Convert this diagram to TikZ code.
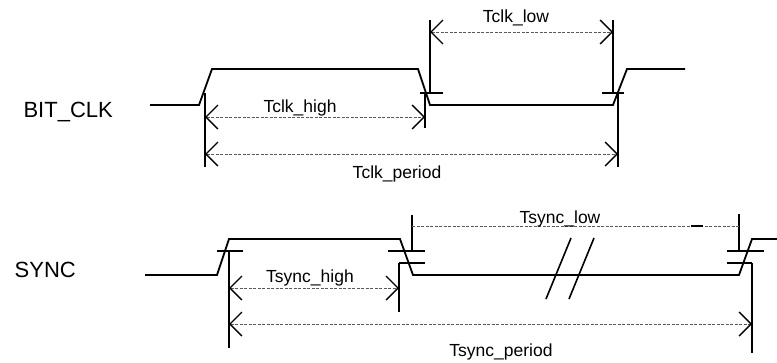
\documentclass[tikz,border=0pt]{standalone}
\usepackage{fontspec}
\setmainfont{Liberation Sans}
\usetikzlibrary{arrows.meta}
\begin{document}
\begin{tikzpicture}[x=1pt,y=-1pt,
  wave/.style={line width=1.8pt,line join=miter},
  tick/.style={line width=1.8pt},
  dim/.style={line width=0.9pt,draw=black!65,dash pattern=on 3pt off 1.5pt,
    {Straight Barb[length=12pt,width=24pt,line width=1.4pt,black]}-{Straight Barb[length=12pt,width=24pt,line width=1.4pt,black]}},
  plain/.style={line width=0.9pt,draw=black!65,dash pattern=on 3pt off 1.5pt},
  lbl/.style={font=\fontsize{17.5pt}{20pt}\selectfont,inner sep=0pt,anchor=base},
  sig/.style={font=\fontsize{22pt}{25pt}\selectfont,inner sep=0pt,anchor=base east}]
\useasboundingbox (0,0) rectangle (777,362);

% ---------- BIT_CLK ----------
\node[sig] (bclk) at (113,117) {BIT\_CLK};
\coordinate (b0) at (150,105);
\coordinate (b1) at (199,105);
\coordinate (b2) at (212,69);
\coordinate (b3) at (418,69);
\coordinate (b4) at (430,105);
\coordinate (b5) at (613,105);
\coordinate (b6) at (627,69);
\coordinate (b7) at (685,69);
\draw[wave] (b0) -- (b1) -- (b2) -- (b3) -- (b4) -- (b5) -- (b6) -- (b7);

\coordinate (v1t) at (205,93);   \coordinate (v1b) at (205,167);
\coordinate (v2t) at (425,93);   \coordinate (v2b) at (425,128);
\coordinate (v3t) at (430,20);   \coordinate (v3b) at (430,93);
\coordinate (v4t) at (613,20);   \coordinate (v4b) at (613,93);
\coordinate (v5t) at (618,93);   \coordinate (v5b) at (618,167);
\coordinate (t1a) at (420,93);   \coordinate (t1b) at (443,93);
\coordinate (t2a) at (602,93);   \coordinate (t2b) at (624,93);
\draw[tick] (v1t) -- (v1b);
\draw[tick] (v2t) -- (v2b);
\draw[tick] (v3t) -- (v3b);
\draw[tick] (v4t) -- (v4b);
\draw[tick] (v5t) -- (v5b);
\draw[tick] (t1a) -- (t1b);
\draw[tick] (t2a) -- (t2b);

\coordinate (h1a) at (205,117);  \coordinate (h1b) at (425,117);
\coordinate (l1a) at (430,32);   \coordinate (l1b) at (613,32);
\coordinate (p1a) at (205,154);  \coordinate (p1b) at (618,154);
\draw[dim] (h1a) -- (h1b);
\draw[dim] (l1a) -- (l1b);
\draw[dim] (p1a) -- (p1b);
\node[lbl] (tch) at (300,112) {Tclk\_high};
\node[lbl] (tcl) at (516,22) {Tclk\_low};
\node[lbl] (tcp) at (397,178) {Tclk\_period};

% ---------- SYNC ----------
\node[sig] (sync) at (76,277) {SYNC};
\coordinate (s0) at (145,275);
\coordinate (s1) at (217,275);
\coordinate (s2) at (229,239);
\coordinate (s3) at (400,239);
\coordinate (s4) at (413,275);
\coordinate (s5) at (739,275);
\coordinate (s6) at (752,239);
\coordinate (s7) at (777,239);
\draw[wave] (s0) -- (s1) -- (s2) -- (s3) -- (s4) -- (s5) -- (s6) -- (s7);

\coordinate (u1a) at (217,251);  \coordinate (u1b) at (243,251);
\coordinate (u2a) at (388,251);  \coordinate (u2b) at (425,251);
\coordinate (u3a) at (399,263);  \coordinate (u3b) at (425,263);
\coordinate (u4a) at (727,251);  \coordinate (u4b) at (764,251);
\coordinate (u5a) at (727,263);  \coordinate (u5b) at (752,263);
\draw[tick] (u1a) -- (u1b);
\draw[tick] (u2a) -- (u2b);
\draw[tick] (u3a) -- (u3b);
\draw[tick] (u4a) -- (u4b);
\draw[tick] (u5a) -- (u5b);
\coordinate (w1t) at (229,251);  \coordinate (w1b) at (229,348);
\coordinate (w2t) at (412,215);  \coordinate (w2b) at (412,251);
\coordinate (w3t) at (399,263);  \coordinate (w3b) at (399,312);
\coordinate (w4t) at (739,214);  \coordinate (w4b) at (739,251);
\coordinate (w5t) at (752,263);  \coordinate (w5b) at (752,353);
\draw[tick] (w1t) -- (w1b);
\draw[tick] (w2t) -- (w2b);
\draw[tick] (w3t) -- (w3b);
\draw[tick] (w4t) -- (w4b);
\draw[tick] (w5t) -- (w5b);

\coordinate (sh1) at (229,288);  \coordinate (sh2) at (399,288);
\coordinate (sp1) at (229,324);  \coordinate (sp2) at (752,324);
\coordinate (sl1) at (412,226);  \coordinate (sl2) at (739,226);
\coordinate (sd1) at (691,226);  \coordinate (sd2) at (703,226);
\draw[dim] (sh1) -- (sh2);
\draw[dim] (sp1) -- (sp2);
\draw[plain] (sl1) -- (sl2);
\draw[line width=1.4pt] (sd1) -- (sd2);

\coordinate (k1a) at (546,299);  \coordinate (k1b) at (571,238);
\coordinate (k2a) at (569,299);  \coordinate (k2b) at (594,238);
\draw[line width=1.6pt] (k1a) -- (k1b);
\draw[line width=1.6pt] (k2a) -- (k2b);

\node[lbl] (tsh) at (310,282) {Tsync\_high};
\node[lbl] (tsl) at (560,223) {Tsync\_low};
\node[lbl] (tsp) at (501,356) {Tsync\_period};
\end{tikzpicture}
\end{document}
